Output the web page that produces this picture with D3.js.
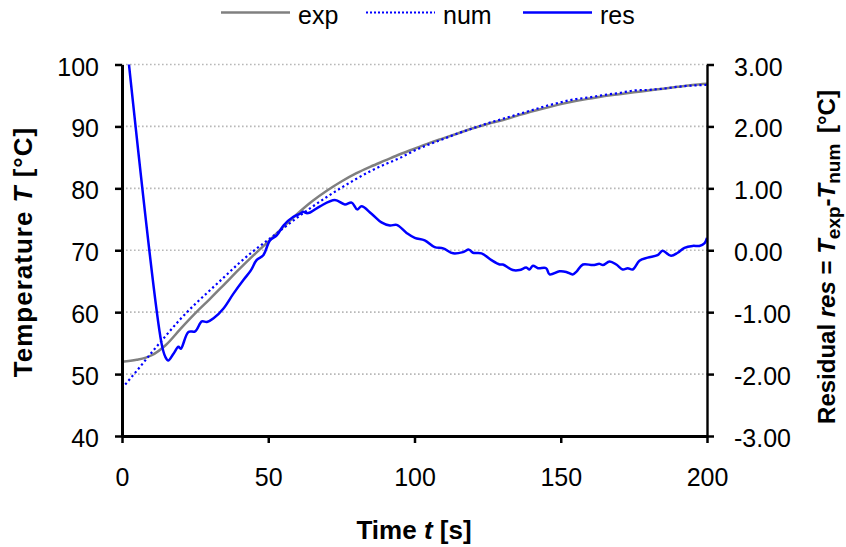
<!DOCTYPE html>
<html>
<head>
<meta charset="utf-8">
<script src="https://cdn.jsdelivr.net/npm/d3@7"></script>
<style>
    body { margin: 0; background: #fff; }
    text { font-family: "Liberation Sans", Arial, sans-serif; fill: #000; }
</style>
</head>
<body>
<div id="chart"></div>
<script>
// time grid of the two temperature curves [s]
var timeS = [0, 5, 10, 15, 20, 25, 30, 35, 40, 45, 50, 55, 60, 65, 70, 75, 80, 85, 90, 95,
    100, 105, 110, 115, 120, 125, 130, 135, 140, 145, 150, 155, 160, 165, 170, 175, 180, 185, 190, 195, 200];

// measured temperature [°C]
var tempExp = [52.0, 52.3, 53.0, 54.7, 57.3, 59.8, 62.1, 64.5, 66.9, 69.2, 71.4, 73.7, 75.9, 77.9, 79.6, 81.1, 82.4, 83.5, 84.5, 85.5,
    86.4, 87.3, 88.1, 88.9, 89.7, 90.4, 91.0, 91.7, 92.4, 93.0, 93.6, 94.1, 94.5, 94.9, 95.2, 95.5, 95.8, 96.1, 96.4, 96.7, 96.9];

// simulated temperature [°C]
var tempNum = [47.7, 50.5, 53.4, 56.2, 58.9, 61.3, 63.5, 65.7, 67.9, 69.9, 71.7, 73.5, 75.3, 77.0, 78.6, 80.1, 81.5, 82.8, 83.9, 84.9,
    86.1, 87.1, 88.0, 88.9, 89.7, 90.5, 91.2, 91.9, 92.6, 93.3, 93.9, 94.4, 94.7, 95.1, 95.4, 95.8, 95.9, 96.1, 96.4, 96.6, 96.7];

// residual res = Texp - Tnum [°C]
var resTime = [0, 13.5, 14.8, 15.8, 17.6, 19.3, 20.1, 22.7, 25, 27.3, 29, 31.3, 34.7, 38.1, 41.5, 44, 46, 48.3, 50.6, 52.9,
    55.2, 58.6, 60.9, 62, 63, 64.3, 67.7, 72.8, 76.2, 78.5, 80.4, 81.9, 85.3, 88.7, 91.6, 93.9, 97.3, 100.1, 103.5, 106.9,
    109.8, 113.2, 116.6, 118.6, 120, 122.9, 126.3, 129.1, 130.2, 133.6, 135.9, 138.2, 139.3, 140.5, 142.2, 145, 146.2, 149.6, 151.9, 154.1,
    155.3, 157.6, 161, 163.3, 164.4, 166.7, 169, 171.2, 172.9, 174.6, 176.9, 179.7, 183.1, 184.8, 187.7, 190, 192.3, 195.1, 197.4, 199.1, 200];
var resValue = [4.07, -1.5, -1.72, -1.78, -1.67, -1.56, -1.59, -1.32, -1.31, -1.15, -1.16, -1.1, -0.94, -0.7, -0.48, -0.33, -0.16, -0.08, 0.16, 0.24,
    0.4, 0.54, 0.59, 0.62, 0.6, 0.61, 0.71, 0.81, 0.74, 0.77, 0.66, 0.71, 0.59, 0.45, 0.4, 0.41, 0.28, 0.2, 0.16, 0.05,
    0.03, -0.05, -0.03, 0.01, -0.04, -0.05, -0.16, -0.23, -0.23, -0.32, -0.32, -0.28, -0.31, -0.25, -0.29, -0.29, -0.39, -0.34, -0.35, -0.39,
    -0.35, -0.23, -0.24, -0.22, -0.24, -0.18, -0.23, -0.31, -0.29, -0.31, -0.17, -0.12, -0.08, -0.01, -0.09, -0.04, 0.04, 0.07, 0.07, 0.11, 0.2];

var xTicks = [0, 50, 100, 150, 200];
var leftTicks = [40, 50, 60, 70, 80, 90, 100];
var rightTicks = [-3, -2, -1, 0, 1, 2, 3];
var seriesNames = ['exp', 'num', 'res'];

var width = 846;
var height = 547;

var svg = d3.select("#chart")
    .append("svg")
    .attr("width", width)
    .attr("height", height);

var x = d3.scaleLinear().domain([0, 200]).range([122, 707]);
var yL = d3.scaleLinear().domain([40, 100]).range([436, 64.5]);
var yR = d3.scaleLinear().domain([-3, 3]).range([436, 64.5]);

svg.append("clipPath")
    .attr("id", "plotClip")
    .append("rect")
    .attr("x", 122)
    .attr("y", 64.5)
    .attr("width", 585)
    .attr("height", 371.5);

// dotted horizontal grid
svg.append("g")
    .selectAll("line")
    .data(leftTicks.filter(function (d) { return d > 40; }))
    .enter()
    .append("line")
    .attr("x1", x(0))
    .attr("x2", x(200))
    .attr("y1", function (d) { return yL(d); })
    .attr("y2", function (d) { return yL(d); })
    .attr("stroke", "#b8b8b8")
    .attr("stroke-width", 1.6)
    .attr("stroke-dasharray", "1.6,2.4");

var lineExp = d3.line()
    .x(function (d, i) { return x(timeS[i]); })
    .y(function (d) { return yL(d); })
    .curve(d3.curveMonotoneX);

var lineRes = d3.line()
    .x(function (d, i) { return x(resTime[i]); })
    .y(function (d) { return yR(d); })
    .curve(d3.curveCatmullRom.alpha(0.5));

var plot = svg.append("g").attr("clip-path", "url(#plotClip)");

plot.append("path")
    .attr("d", lineExp(tempExp))
    .attr("fill", "none")
    .attr("stroke", "#808080")
    .attr("stroke-width", 2.5);

plot.append("path")
    .attr("d", lineExp(tempNum))
    .attr("fill", "none")
    .attr("stroke", "#0000ff")
    .attr("stroke-width", 2.2)
    .attr("stroke-dasharray", "2.2,2.8");

plot.append("path")
    .attr("d", lineRes(resValue))
    .attr("fill", "none")
    .attr("stroke", "#0000ff")
    .attr("stroke-width", 2.5);

// axes
var axisL = svg.append("g")
    .attr("transform", "translate(" + x(0) + ",0)")
    .call(d3.axisLeft(yL).tickValues(leftTicks).tickSize(7).tickSizeOuter(0).tickPadding(16));

var axisR = svg.append("g")
    .attr("transform", "translate(" + x(200) + ",0)")
    .call(d3.axisRight(yR).tickValues(rightTicks).tickSize(7).tickSizeOuter(0).tickPadding(20)
        .tickFormat(function (d) { return d.toFixed(2); }));

var axisB = svg.append("g")
    .attr("transform", "translate(0," + yL(40) + ")")
    .call(d3.axisBottom(x).tickValues(xTicks).tickSize(7).tickSizeOuter(0).tickPadding(25));

[axisL, axisR, axisB].forEach(function (a) {
    a.selectAll("text")
        .style("font-size", "25px")
        .style("font-family", '"Liberation Sans", Arial, sans-serif')
        .attr("fill", "#000");
    a.selectAll("line").attr("stroke", "#000").attr("stroke-width", 2.5);
});
axisL.select(".domain").attr("stroke-width", 3);
axisB.select(".domain").attr("stroke-width", 3);
axisR.select(".domain").attr("stroke-width", 2.4);
axisL.selectAll("text").attr("dy", "0.42em");
axisR.selectAll("text").attr("dy", "0.42em");

// axis titles
var tX = svg.append("text")
    .attr("x", 414)
    .attr("y", 539)
    .attr("text-anchor", "middle")
    .style("font-size", "26px")
    .style("font-weight", "bold");
tX.append("tspan").text("Time ");
tX.append("tspan").style("font-style", "italic").text("t");
tX.append("tspan").text(" [s]");

var tL = svg.append("text")
    .attr("transform", "translate(32,252) rotate(-90)")
    .attr("text-anchor", "middle")
    .style("font-size", "26px")
    .style("font-weight", "bold")
    .style("letter-spacing", "1px");
tL.append("tspan").text("Temperature ");
tL.append("tspan").style("font-style", "italic").text("T");
tL.append("tspan").text(" [°C]");

var tR = svg.append("text")
    .attr("transform", "translate(835,257) rotate(-90)")
    .attr("text-anchor", "middle")
    .style("font-size", "24px")
    .style("font-weight", "bold");
tR.append("tspan").text("Residual ");
tR.append("tspan").style("font-style", "italic").text("res");
tR.append("tspan").text(" = ");
tR.append("tspan").style("font-style", "italic").text("T");
tR.append("tspan").attr("dy", 5).style("font-size", "19px").text("exp");
tR.append("tspan").attr("dy", -5).text("-");
tR.append("tspan").style("font-style", "italic").text("T");
tR.append("tspan").attr("dy", 5).style("font-size", "19px").text("num");
tR.append("tspan").attr("dy", -5).attr("dx", 4).text(" [°C]");

// legend
var legendX = [221, 366, 523];
var legend = svg.append("g");
seriesNames.forEach(function (name, i) {
    var ln = legend.append("line")
        .attr("x1", legendX[i])
        .attr("x2", legendX[i] + 69)
        .attr("y1", 12.5)
        .attr("y2", 12.5)
        .attr("stroke", name == 'exp' ? "#808080" : "#0000ff")
        .attr("stroke-width", name == 'num' ? 2 : 2.5);
    if (name == 'num') {
        ln.attr("stroke-dasharray", "2,2");
    }
    legend.append("text")
        .attr("x", legendX[i] + 77)
        .attr("y", 24)
        .style("font-size", "25px")
        .text(name);
});
</script>
</body>
</html>
